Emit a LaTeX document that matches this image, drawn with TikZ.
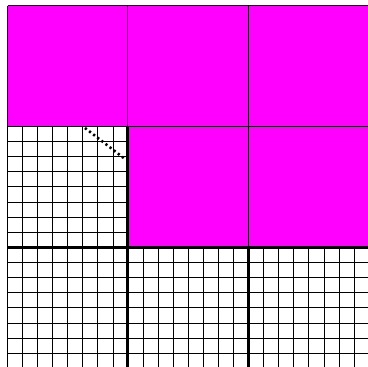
\documentclass[tikz,border=0pt]{standalone}
\definecolor{mag}{RGB}{255,0,255}
\begin{document}
\begin{tikzpicture}[x=1pt,y=-1pt,
  fine/.style={line width=1.7pt,black},
  bold/.style={line width=3.2pt,black},
  cellborder/.style={line width=1.2pt,draw=black!85!mag},
  dotline/.style={line width=2.6pt,black,dash pattern=on 2.2pt off 3pt}]
\useasboundingbox (0,0) rectangle (368,367);
\clip (0,0) rectangle (368,367);
% magenta cells
\fill[mag] (7.5,5.5) rectangle (369,126.5);
\fill[mag] (127.5,126.5) rectangle (369,247.5);
% borders of the magenta cells
\draw[cellborder] (7.5,5.5) -- (369,5.5);
\draw[cellborder] (7.5,126.5) -- (369,126.5);
\draw[cellborder] (7.5,5.5) -- (7.5,126.5);
\draw[cellborder] (127.5,5.5) -- (127.5,126.5);
\draw[cellborder] (248.5,5.5) -- (248.5,247.5);
% fine grid, middle-left cell
\foreach \i [evaluate=\i as \xx using {round(7+\i*15.075)+0.5},
             evaluate=\i as \yy using {round(126+\i*15.1)+0.5}] in {0,...,8}{
  \draw[fine] (\xx,126.5) -- (\xx,247.5);
  \draw[fine] (7.5,\yy) -- (127.5,\yy);
}
% fine grid, bottom row
\foreach \i [evaluate=\i as \xx using {round(7+\i*15.075)+0.5}] in {0,...,24}{
  \draw[fine] (\xx,247.5) -- (\xx,368);
}
\foreach \j [evaluate=\j as \yy using {round(247+\j*15.1)+0.5}] in {0,...,8}{
  \draw[fine] (7.5,\yy) -- (369,\yy);
}
% thick lines
\draw[bold] (127.5,126.5) -- (127.5,368);
\draw[bold] (7.5,247.5) -- (369,247.5);
\draw[bold] (248.5,247.5) -- (248.5,368);
% dotted segment
\coordinate (d1) at (85,128);
\coordinate (d2) at (125,159);
\draw[dotline] (d1) -- (d2);
\end{tikzpicture}
\end{document}
